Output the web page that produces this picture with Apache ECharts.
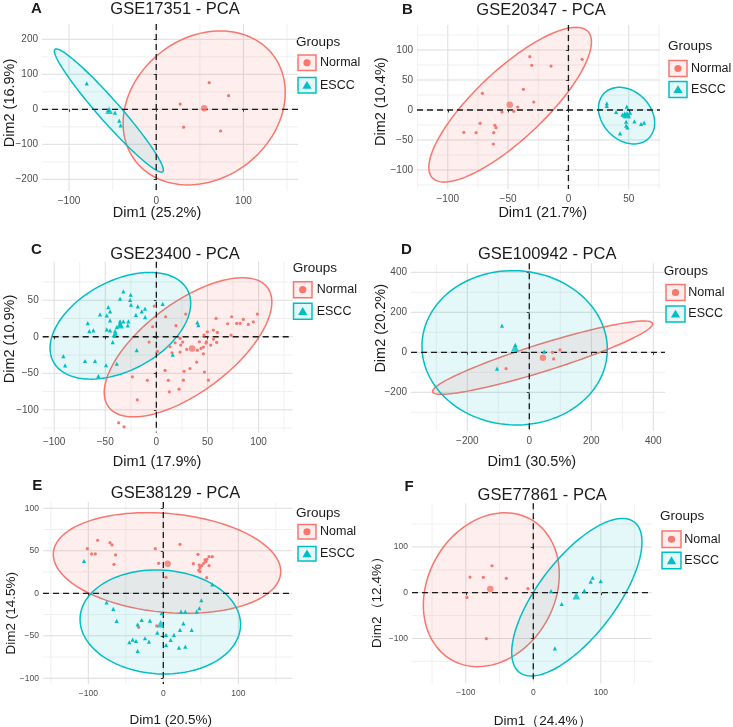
<!DOCTYPE html>
<html><head><meta charset="utf-8">
<script src="https://cdn.jsdelivr.net/npm/echarts@6/dist/echarts.min.js"></script>
<style>html,body{margin:0;padding:0;background:#fff}#c{width:733px;height:727px}</style>
</head><body><div id="c"></div>
<script>
// ---------------- DATA ----------------
const panelLetters = ['A','B','C','D','E','F'];
const panelTitles = ['GSE17351 - PCA','GSE20347 - PCA','GSE23400 - PCA','GSE100942 - PCA','GSE38129 - PCA','GSE77861 - PCA'];
const xTitles = ['Dim1 (25.2%)','Dim1 (21.7%)','Dim1 (17.9%)','Dim1 (30.5%)','Dim1 (20.5%)','Dim1\uFF0824.4%\uFF09'];
const yTitles = ['Dim2 (16.9%)','Dim2 (10.4%)','Dim2 (10.9%)','Dim2 (20.2%)','Dim2 (14.5%)','Dim2\uFF0812.4%\uFF09'];
const legendTitle = 'Groups';
const normalNames = ['Normal','Normal','Normal','Nomal','Nomal','Nomal'];
const esccNames = ['ESCC','ESCC','ESCC','ESCC','ESCC','ESCC'];

const xTickValues = [[-100,0,100],[-100,-50,0,50],[-100,-50,0,50,100],[-200,0,200,400],[-100,0,100],[-100,0,100]];
const yTickValues = [[-200,-100,0,100,200],[-100,-50,0,50,100],[-100,-50,0,50],[-200,0,200,400],[-100,-50,0,50,100],[-100,0,100]];
const xMinorValues = [[-50,50,150],[-125,-75,-25,25,75],[-75,-25,25,75,125],[-300,-100,100,300],[-150,-50,50,150],[-150,-50,50,150]];
const yMinorValues = [[-150,-50,50,150],[-125,-75,-25,25,75,125],[-125,-75,-25,25,75],[-300,-100,100,300],[-75,-25,25,75],[-150,-50,50,150]];

const normalA = [[60.7,76],[83,39],[27.5,15],[31.4,-51],[73.8,-62]];
const esccA = [[-79.7,74],[-47.3,-9.7],[-42.4,-32.6],[-40.8,-45.7],[-55,-2]];

const normalB = [[-32,88.9],[11.3,84.4],[-30.4,74.4],[-14.4,73.3],[-37.3,34.4],[-71.3,27.8],[-28.7,13.3],[-42,5],[-55,-3.3],[-45.3,-2.2],[-73.2,-22.2],[-61,-25.6],[-60,-29.4],[-86.7,-37.2],[-76.5,-37.8],[-61.9,-37.8],[-62.2,-56.7]];
const esccB = [[31.8,11.1],[31.8,6.7],[39.5,-3.3],[48.4,5.6],[44.8,-7.8],[51.1,-4.4],[46.4,-9.4],[50,-9.4],[47.8,-19.4],[47.8,-26.1],[48.9,-28.9],[54.7,-18.9],[60.2,-23.3],[62.7,-21.1],[42.8,-38.9],[46.7,-5.6],[49,-7]];

const normalC = [[-2,42],[-3.6,13.7],[9.1,27.4],[19.2,15.1],[28.7,31],[-7.1,-7.3],[1,-20],[23.2,-20.9],[18.3,-8.2],[25.8,-7.3],[29.7,-17.2],[48.6,-8.6],[46,-14.1],[-8.8,-59.6],[8.5,-46],[11.7,-59.6],[27.1,-47.3],[39.5,-34.6],[47,-48.3],[58.4,25.1],[69.8,17.8],[73.7,27.4],[78.6,18.3],[81.9,18.3],[85.1,23.7],[90,16.9],[94.9,20.5],[98.8,31],[73.1,2.3],[59.7,5.9],[55.8,9.1],[49.9,6.8],[46.6,2.3],[42.1,-6.8],[49.2,-6.8],[53.2,-11.4],[59,-7.8],[55.8,-3.2],[43.7,-16],[46,-23.3],[40.1,-18.3],[23.2,-2.3],[23.8,-11.4],[13.4,-13.7],[15.3,-21.9],[32.9,-43.4],[50.9,-59.4],[26.4,-59.4],[22.2,-71.7],[12.7,-75.3],[-23.5,-54.8],[-18.6,-86.3],[-36.9,-117.8],[-31.6,-123.3]];
const esccC = [[-32.3,62.1],[-25.1,57.5],[-35.5,52],[-25.7,50.6],[-24.8,43.8],[-18.2,41.6],[-14.3,34.7],[-11.1,38.3],[-47,40.6],[-45.3,34.7],[-48.5,29.3],[-55.1,30.6],[-45.3,22.4],[-35.5,21],[-32.3,21],[-35.5,17.4],[-34.5,15.6],[-27.4,21],[-28,15.6],[-67.1,18.7],[-61.6,8.8],[-65.6,7.8],[-48.5,10.1],[-45.3,8.8],[-40.4,7.8],[-39.7,4.1],[-41.4,2.7],[-38.7,13.3],[-42.7,-7.3],[-19.2,-18.3],[-91,-26.4],[-89.3,-39.1],[-69.8,-33.2],[-60,-33.2],[-56.8,-53.8],[-38.7,-36.9],[-49.2,-39],[40.1,19.6],[41.1,16],[16,-24.6],[6.2,45],[-11,27],[-20,30]];

const normalD = [[-75,-82],[75,0],[99,12],[78.5,-33]];
const esccD = [[-88,133],[-45,37],[-104,-82],[48,3]];

const normalE = [[-87.6,62.4],[-101.3,52.5],[-95.6,46.3],[-90.7,46.3],[-71.1,59.6],[-68.4,56.9],[-63.6,45.1],[-65.8,34.1],[-10.7,52.5],[-6.2,35.3],[22.2,57.6],[3.6,18.8],[40,34.9],[46.2,45.9],[48,33.3],[48.9,30.2],[47.1,27.1],[51.1,32.5],[55.6,39.2],[57.8,40],[60.9,43.1],[65.3,43.1],[56.9,37.3],[60.9,32.5],[57.8,18.4],[53.8,35.3],[-32.9,-40],[-8.9,-38.4],[48.9,25.5]];
const esccE = [[-105.8,38],[-75.6,-10.6],[-66.7,-18.4],[-62.2,-32.5],[-34.2,-36.5],[-28.9,-31.4],[-17.8,-32.2],[-24.4,-52.9],[-19.1,-56.9],[-36.4,-56.1],[-45.3,-57.6],[-40.9,-54.5],[-34.2,-67.8],[-8,-46.3],[-2.2,-23.5],[3.6,-49],[3.6,-60.8],[9.8,-54.9],[14.2,-49],[22.2,-43.1],[26.7,-35.3],[37.8,-43.1],[20.9,-63.9],[29.3,-62.7],[44.4,-21.6],[48,-17.6],[50.7,-8.2],[23.6,-21.6],[29.3,-21.6],[65.3,10.6]];

const normalF = [[-61.2,58.9],[-93.8,34.2],[-74,33.5],[-40,31.3],[-7.9,8.7],[-98.3,-10.2],[-69.6,-100.4]];
const esccF = [[26.2,3.6],[42,-24.7],[75.6,4.4],[85,24],[87.9,32.7],[99.8,25.5],[32,-121.5]];

const normalPoints = [normalA, normalB, normalC, normalD, normalE, normalF];
const esccPoints = [esccA, esccB, esccC, esccD, esccE, esccF];
const normalMeans = [[55,3],[-48.6,8.8],[35,-16],[44,-26.7],[5.8,34.9],[-63.7,8]];
const esccMeans = [[-54,-3],[48.5,-8],[-35.5,16.6],[-46,25],[-3.6,-35.7],[63.7,-6.5]];
// ellipses: [centre x, centre y, half-width in x, half-height in y, correlation]
const normalEllipses = [[55,4,93,220,0.2],[-48.3,8.9,67.4,129,0.81],[31,-14.4,82,95.2,0.65],[43,-26.7,355,183.3,0.92],[4.9,35.7,151.6,59.2,-0.17],[-62.2,6.5,100.7,168,0.2]];
const esccEllipses = [[-54.3,-3.5,62.5,176,-0.965],[48.2,-9.4,23.3,47.2,-0.26],[-35.2,15,68.8,73,0.42],[-47.3,22.5,299,385.8,-0.02],[-4,-33.7,107,61.2,-0.05],[64.5,-9.8,96.5,172,0.7]];

// ---------------- LAYOUT ----------------
const layout = [
  {grid:[42,24,256,167], x:[-131,162.6], y:[-233.4,243.7], fs:10, tfs:14.5, title:[175,9.2], letter:[36.3,8.7], xt:[157,213], yt:[10,103],
   leg:{gx:296, gy:42, bx:298, bw:18, bh:15.5, ny:55, ey:77.5, tx:320}},
  {grid:[417,25,243,164], x:[-125.5,75.9], y:[-131.7,141.7], fs:10, tfs:14.5, title:[541,10], letter:[407.3,9.5], xt:[542.7,213.3], yt:[381,101.7],
   leg:{gx:668, gy:46.7, bx:669, bw:18, bh:16, ny:60.5, ey:81.5, tx:691}},
  {grid:[42.7,261.7,250,170.8], x:[-111.2,133.4], y:[-131,102.7], fs:10, tfs:14.5, title:[175,254.2], letter:[36.3,250.3], xt:[157,462], yt:[10,339],
   leg:{gx:292.7, gy:268.3, bx:293.5, bw:18.5, bh:16, ny:281.7, ey:303.3, tx:316.7}},
  {grid:[411,263.3,254,167.7], x:[-381.6,437.7], y:[-393.5,445], fs:10, tfs:14.5, title:[547.2,254.2], letter:[406.3,250.3], xt:[531.8,462], yt:[381,328.3],
   leg:{gx:663.7, gy:271, bx:666, bw:19, bh:16, ny:284.5, ey:306, tx:688.3}},
  {grid:[43,502,249.7,182], x:[-160.4,172.5], y:[-106.7,107.4], fs:8.5, tfs:13.5, title:[175.5,493.5], letter:[37.2,485.5], xt:[170.8,720], yt:[11.7,613.3],
   leg:{gx:296, gy:513.3, bx:298, bw:18, bh:14.5, ny:524.5, ey:546.5, tx:320}},
  {grid:[412,503.3,239.7,180], x:[-179.7,175.4], y:[-197.8,195.2], fs:8.5, tfs:13.5, title:[542.2,495.8], letter:[409,487], xt:[542.7,721.7], yt:[377.7,599],
   leg:{gx:660, gy:516.7, bx:662, bw:19, bh:16.5, ny:531, ey:552.3, tx:684.3}}
];

const RED = '#F8766D', TEAL = '#00BFC4';
const FONT = '"Liberation Sans", Arial, sans-serif';
const fmt = v => v < 0 ? '\u2212' + Math.abs(v) : String(v);

const grids = [], xAxes = [], yAxes = [], series = [], graphics = [];

function ellipseRender(fill, stroke){
  return function(params, api){
    const cx = api.value(0), cy = api.value(1), hx = api.value(2), hy = api.value(3), r = api.value(4);
    const s = Math.sqrt(1 - r*r), pts = [];
    for (let k = 0; k <= 120; k++){
      const t = 2*Math.PI*k/120;
      pts.push(api.coord([cx + hx*Math.cos(t), cy + hy*(r*Math.cos(t) + s*Math.sin(t))]));
    }
    return {type:'polygon', shape:{points:pts}, style:{fill:fill, stroke:stroke, lineWidth:1.5}};
  };
}

layout.forEach((L, i) => {
  grids.push({left:L.grid[0], top:L.grid[1], width:L.grid[2], height:L.grid[3], containLabel:false, outerBoundsMode:'none'});
  const axisCommon = (ticks, margin) => ({
    type:'value', gridIndex:i, axisLine:{show:false}, splitLine:{show:false},
    axisTick:{show:true, length:2.5, lineStyle:{color:'#333', width:1}, customValues:ticks},
    axisLabel:{customValues:ticks, formatter:fmt, color:'#4D4D4D', fontSize:L.fs, fontFamily:FONT, margin:margin}
  });
  xAxes.push(Object.assign(axisCommon(xTickValues[i], 5), {min:L.x[0], max:L.x[1]}));
  yAxes.push(Object.assign(axisCommon(yTickValues[i], 4), {min:L.y[0], max:L.y[1]}));

  const gitems = [];
  xMinorValues[i].forEach(v => gitems.push([v,0,0]));
  xTickValues[i].forEach(v => gitems.push([v,0,1]));
  yMinorValues[i].forEach(v => gitems.push([v,1,0]));
  yTickValues[i].forEach(v => gitems.push([v,1,1]));
  series.push({
    type:'custom', xAxisIndex:i, yAxisIndex:i, z:0, silent:true, data:gitems,
    renderItem:function(params, api){
      const cs = params.coordSys, v = api.value(0), d = api.value(1), k = api.value(2);
      const style = k === 1 ? {stroke:'#DDDDDD', lineWidth:1} : {stroke:'#ECECEC', lineWidth:0.8};
      if (d === 0){
        const p = api.coord([v, L.y[0]]);
        if (p[0] < cs.x - 0.5 || p[0] > cs.x + cs.width + 0.5) return null;
        return {type:'line', shape:{x1:p[0], y1:cs.y, x2:p[0], y2:cs.y+cs.height}, style:style};
      }
      const p = api.coord([L.x[0], v]);
      if (p[1] < cs.y - 0.5 || p[1] > cs.y + cs.height + 0.5) return null;
      return {type:'line', shape:{x1:cs.x, y1:p[1], x2:cs.x+cs.width, y2:p[1]}, style:style};
    }
  });
  series.push({type:'custom', xAxisIndex:i, yAxisIndex:i, z:1, silent:true, data:[normalEllipses[i]],
    renderItem:ellipseRender('rgba(248,118,109,0.12)', RED)});
  series.push({type:'custom', xAxisIndex:i, yAxisIndex:i, z:1, silent:true, data:[esccEllipses[i]],
    renderItem:ellipseRender('rgba(0,191,196,0.10)', TEAL)});
  series.push({
    type:'custom', xAxisIndex:i, yAxisIndex:i, z:2, silent:true, data:[[0,0],[0,1]],
    renderItem:function(params, api){
      const cs = params.coordSys, v = api.value(0), d = api.value(1);
      const style = {stroke:'#1a1a1a', lineWidth:1.3, lineDash:[6,4]};
      if (d === 0){
        const p = api.coord([v, L.y[0]]);
        return {type:'line', shape:{x1:p[0], y1:cs.y, x2:p[0], y2:cs.y+cs.height}, style:style};
      }
      const p = api.coord([L.x[0], v]);
      return {type:'line', shape:{x1:cs.x, y1:p[1], x2:cs.x+cs.width, y2:p[1]}, style:style};
    }
  });
  series.push({type:'scatter', xAxisIndex:i, yAxisIndex:i, z:3, silent:true, data:normalPoints[i], symbol:'circle', symbolSize:3.2, itemStyle:{color:RED, opacity:1}});
  series.push({type:'scatter', xAxisIndex:i, yAxisIndex:i, z:3, silent:true, data:esccPoints[i], symbol:'triangle', symbolSize:4.2, itemStyle:{color:TEAL, opacity:1}});
  series.push({type:'scatter', xAxisIndex:i, yAxisIndex:i, z:3, silent:true, data:[normalMeans[i]], symbol:'circle', symbolSize:6.5, itemStyle:{color:RED}});
  series.push({type:'scatter', xAxisIndex:i, yAxisIndex:i, z:3, silent:true, data:[esccMeans[i]], symbol:'triangle', symbolSize:7.5, itemStyle:{color:TEAL}});

  // texts
  graphics.push({type:'text', x:L.title[0], y:L.title[1], style:{text:panelTitles[i], font:'16.5px '+FONT, fill:'#1a1a1a', align:'center', verticalAlign:'middle'}});
  graphics.push({type:'text', x:L.letter[0], y:L.letter[1], style:{text:panelLetters[i], font:'bold 15px '+FONT, fill:'#1a1a1a', align:'center', verticalAlign:'middle'}});
  graphics.push({type:'text', x:L.xt[0], y:L.xt[1], style:{text:xTitles[i], font:L.tfs+'px '+FONT, fill:'#1a1a1a', align:'center', verticalAlign:'middle'}});
  graphics.push({type:'text', x:L.yt[0], y:L.yt[1], rotation:Math.PI/2, style:{text:yTitles[i], font:L.tfs+'px '+FONT, fill:'#1a1a1a', align:'center', verticalAlign:'middle'}});
  // legend
  const g = L.leg;
  graphics.push({type:'text', x:g.gx, y:g.gy, style:{text:legendTitle, font:'13.5px '+FONT, fill:'#1a1a1a', align:'left', verticalAlign:'middle'}});
  graphics.push({type:'rect', shape:{x:g.bx, y:g.ny, width:g.bw, height:g.bh}, style:{fill:'rgba(248,118,109,0.12)', stroke:RED, lineWidth:1.5}});
  graphics.push({type:'circle', shape:{cx:g.bx+g.bw/2, cy:g.ny+g.bh/2, r:3.6}, style:{fill:RED}});
  graphics.push({type:'rect', shape:{x:g.bx, y:g.ey, width:g.bw, height:g.bh}, style:{fill:'rgba(0,191,196,0.10)', stroke:TEAL, lineWidth:1.5}});
  const tcx = g.bx+g.bw/2, tcy = g.ey+g.bh/2;
  graphics.push({type:'polygon', shape:{points:[[tcx, tcy-4.2],[tcx+4.6, tcy+3.6],[tcx-4.6, tcy+3.6]]}, style:{fill:TEAL}});
  graphics.push({type:'text', x:g.tx, y:g.ny+g.bh/2, style:{text:normalNames[i], font:'12.5px '+FONT, fill:'#1a1a1a', align:'left', verticalAlign:'middle'}});
  graphics.push({type:'text', x:g.tx, y:g.ey+g.bh/2, style:{text:esccNames[i], font:'12.5px '+FONT, fill:'#1a1a1a', align:'left', verticalAlign:'middle'}});
});

const chart = echarts.init(document.getElementById('c'), null, {renderer:'canvas'});
chart.setOption({
  animation:false,
  backgroundColor:'#ffffff',
  grid:grids, xAxis:xAxes, yAxis:yAxes, series:series,
  graphic:{elements:graphics}
});
</script>
</body></html>
